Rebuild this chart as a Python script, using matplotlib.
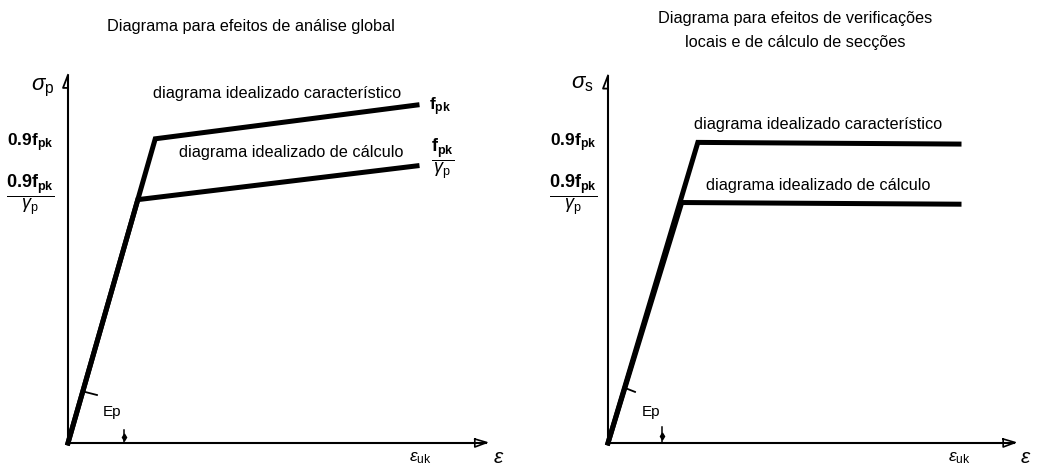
import matplotlib
matplotlib.use("Agg")
import matplotlib.pyplot as plt

plt.rcParams["font.family"] = ["Liberation Sans", "DejaVu Sans"]
plt.rcParams["mathtext.fontset"] = "custom"
plt.rcParams["mathtext.rm"] = "Liberation Sans"
plt.rcParams["mathtext.it"] = "Liberation Sans:italic"
plt.rcParams["mathtext.bf"] = "Liberation Sans:bold"

# strain in units of eps_uk, stress in units of f_pk
eps_glob_char = [0.0, 0.25, 1.0]
sig_glob_char = [0.0, 0.9, 1.0]
eps_glob_calc = [0.0, 0.20, 1.0]
sig_glob_calc = [0.0, 0.72, 0.82]

eps_loc_char = [0.0, 0.256, 1.0]
sig_loc_char = [0.0, 0.9, 0.895]
eps_loc_calc = [0.0, 0.21, 1.0]
sig_loc_calc = [0.0, 0.72, 0.715]

title_glob = "Diagrama para efeitos de análise global"
title_loc = "Diagrama para efeitos de verificações\nlocais e de cálculo de secções"
lbl_char = "diagrama idealizado característico"
lbl_calc = "diagrama idealizado de cálculo"

W, H = 1037, 467
fig = plt.figure(figsize=(W / 100, H / 100), dpi=100)
fig.patch.set_facecolor("white")


def make_axes(x0, x1, ox, oy, sx, sy):
    # axes spanning pixel columns x0..x1, origin at pixel (ox, oy), sx/sy px per unit
    ax = fig.add_axes([x0 / W, 0, (x1 - x0) / W, 1])
    ax.set_xlim((x0 - ox) / sx, (x1 - ox) / sx)
    ax.set_ylim((oy - H) / sy, oy / sy)
    ax.set_axis_off()
    return ax


def frame(ax, xend, ytop, sx, sy):
    k = dict(color="black", lw=1.5, clip_on=False, solid_capstyle="butt")
    ax.plot([0, xend], [0, 0], **k)
    ax.plot([0, 0], [0, ytop], **k)
    # half arrowhead on the stress axis
    ax.plot([0, -5 / sx, 0], [ytop, ytop - 13 / sy, ytop - 13 / sy], color="black", lw=1.3)
    # open arrowhead on the strain axis
    ax.plot([xend - 12 / sx, xend, xend - 12 / sx, xend - 12 / sx],
            [4 / sy, 0.5 / sy, -4 / sy, 4 / sy], color="black", lw=1.2, clip_on=False)


def angle_mark(ax, p0, p1, xt, ht):
    ax.plot([p0[0], p1[0]], [p0[1], p1[1]], color="black", lw=1.3)
    ax.plot([xt, xt], [0, ht], color="black", lw=1.1)
    ax.plot([xt], [ht * 0.45], marker="d", ms=3.5, color="black")


def stress_labels(ax, x, y1, y2, fs=12.5):
    ax.text(x, y1, r"$\mathbf{0.9f}_{\mathbf{pk}}$", fontsize=fs, ha="center", va="center")
    ax.text(x, y2, r"$\dfrac{\mathbf{0.9f}_{\mathbf{pk}}}{\mathit{\gamma}_{\mathrm{p}}}$",
            fontsize=fs + 0.5, ha="center", va="center")


# global analysis diagram
sxg, syg = 349, 338
axg = make_axes(0, 518, 68, 443, sxg, syg)
frame(axg, 1.2, 1.089, sxg, syg)
axg.plot(eps_glob_char, sig_glob_char, color="black", lw=3.6, solid_joinstyle="miter")
axg.plot(eps_glob_calc, sig_glob_calc, color="black", lw=3.6, solid_joinstyle="miter")
axg.text(0.60, 1.035, lbl_char, fontsize=11.7, ha="center", va="center")
axg.text(0.64, 0.858, lbl_calc, fontsize=11.7, ha="center", va="center")
axg.text(1.035, sig_glob_char[-1] - 0.005, r"$\mathbf{f}_{\mathbf{pk}}$", fontsize=12.5,
         ha="left", va="center")
axg.text(1.075, sig_glob_calc[-1] + 0.02,
         r"$\dfrac{\mathbf{f}_{\mathbf{pk}}}{\mathit{\gamma}_{\mathrm{p}}}$",
         fontsize=13, ha="center", va="center")
stress_labels(axg, -0.108, 0.888, 0.734)
axg.text(-0.072, 1.05, r"$\sigma_{\mathrm{p}}$", fontsize=16, ha="center", va="center")
axg.text(0.126, 0.092, "Ep", fontsize=11, ha="center", va="center")
axg.text(1.009, -0.044, r"$\varepsilon_{\mathrm{uk}}$", fontsize=12.5, ha="center", va="center")
axg.text(1.235, -0.042, r"$\varepsilon$", fontsize=15, ha="center", va="center")
angle_mark(axg, (0.049, 0.151), (0.083, 0.142), 0.16, 0.038)

# local verification / section design diagram
sxl, syl = 351, 334
axl = make_axes(518, 1037, 608, 443, sxl, syl)
frame(axl, 1.16, 1.10, sxl, syl)
axl.plot(eps_loc_char, sig_loc_char, color="black", lw=3.6, solid_joinstyle="miter")
axl.plot(eps_loc_calc, sig_loc_calc, color="black", lw=3.6, solid_joinstyle="miter")
axl.text(0.598, 0.955, lbl_char, fontsize=11.7, ha="center", va="center")
axl.text(0.598, 0.772, lbl_calc, fontsize=11.7, ha="center", va="center")
stress_labels(axl, -0.10, 0.898, 0.742)
axl.text(-0.074, 1.075, r"$\sigma_{\mathrm{s}}$", fontsize=16, ha="center", va="center")
axl.text(0.123, 0.093, "Ep", fontsize=11, ha="center", va="center")
axl.text(1.0, -0.044, r"$\varepsilon_{\mathrm{uk}}$", fontsize=12.5, ha="center", va="center")
axl.text(1.19, -0.042, r"$\varepsilon$", fontsize=15, ha="center", va="center")
angle_mark(axl, (0.048, 0.165), (0.077, 0.153), 0.154, 0.047)

fig.text(251 / W, 1 - 27 / H, title_glob, fontsize=11.7, ha="center", va="center")
fig.text(795 / W, 1 - 30 / H, title_loc, fontsize=11.7, ha="center", va="center",
         linespacing=1.75)

fig.savefig("out.png", dpi=100, facecolor="white")
